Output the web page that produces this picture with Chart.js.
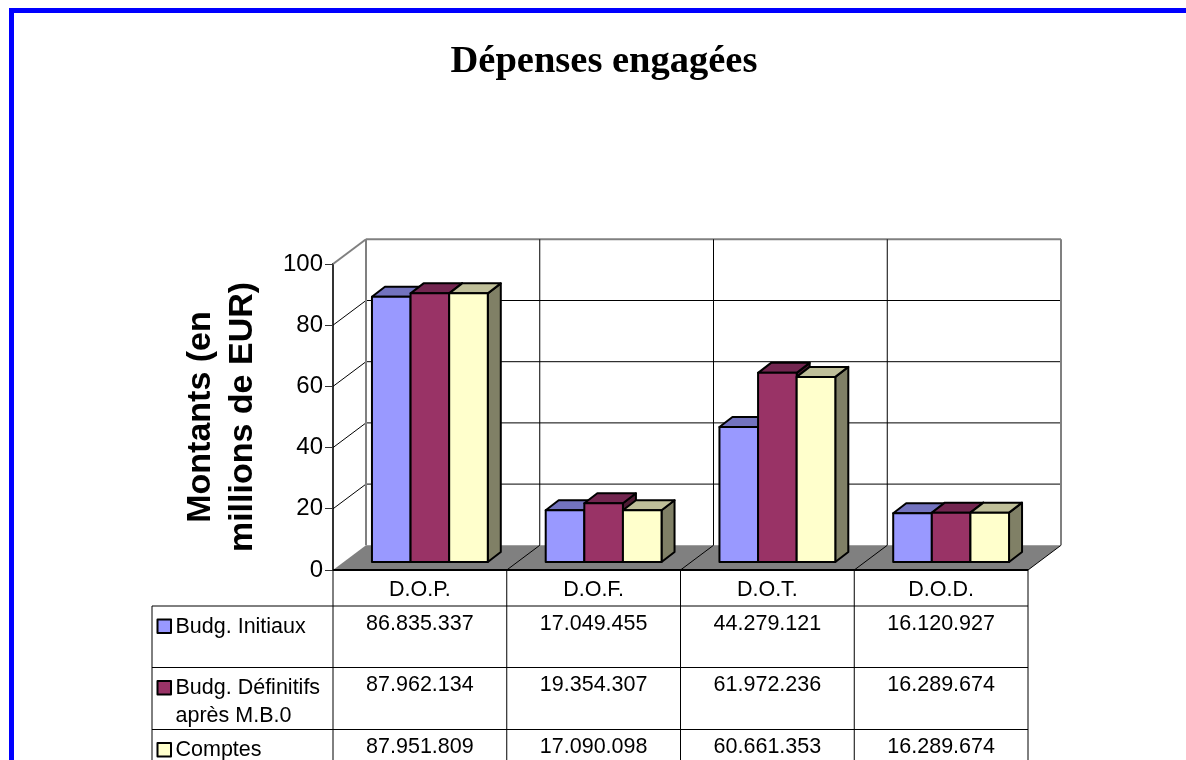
<!DOCTYPE html>
<html>
<head>
<meta charset="utf-8">
<title>Dépenses engagées</title>
<script src="https://cdn.jsdelivr.net/npm/chart.js@4"></script>
<style>
  html, body { margin: 0; padding: 0; background: #fff; overflow: hidden; }
  #wrap { position: relative; width: 1186px; height: 760px; overflow: hidden; }
  canvas { position: absolute; left: 0; top: 0; }
  /* blue frame of the slide, only top and left are in the picture */
  #frameTop { position: absolute; left: 9px; top: 8px; width: 1177px; height: 5px; background: #0000ff; }
  #frameLeft { position: absolute; left: 9px; top: 8px; width: 5px; height: 752px; background: #0000ff; }
</style>
</head>
<body>
<div id="wrap">
  <canvas id="chart" width="1186" height="760"></canvas>
  <div id="frameTop"></div>
  <div id="frameLeft"></div>
</div>
<script>
var categories = ['D.O.P.', 'D.O.F.', 'D.O.T.', 'D.O.D.'];
var seriesNames = ['Budg. Initiaux', 'Budg. Définitifs après M.B.0', 'Comptes'];
var seriesLines = [['Budg. Initiaux'], ['Budg. Définitifs', 'après M.B.0'], ['Comptes']];

// amounts in EUR, as printed in the table
var budgInitiaux = [86835337, 17049455, 44279121, 16120927];
var budgDefinitifs = [87962134, 19354307, 61972236, 16289674];
var comptes = [87951809, 17090098, 60661353, 16289674];
var allSeries = [budgInitiaux, budgDefinitifs, comptes];

var faceColors = ['#9999ff', '#993366', '#ffffcc'];
var topColors = ['#7373bf', '#732650', '#bfbf99'];
var sideColors = ['#4d4d80', '#4d1a33', '#808066'];

// depth of the 3D box and of the bars, in pixels
var wallDx = 33, wallDy = -24.7;
var barShiftX = 10, barShiftY = -7.5;
var barDx = 13, barDy = -10;

function toMillions(v) {
    return v / 1000000;
}

function formatAmount(v) {
    return String(v).replace(/\B(?=(\d{3})+$)/g, '.');
}

function line(ctx, x1, y1, x2, y2, color, width) {
    ctx.strokeStyle = color;
    ctx.lineWidth = width;
    ctx.beginPath();
    ctx.moveTo(x1, y1);
    ctx.lineTo(x2, y2);
    ctx.stroke();
}

function poly(ctx, pts, fill) {
    ctx.beginPath();
    ctx.moveTo(pts[0][0], pts[0][1]);
    for (var i = 1; i < pts.length; i++) {
        ctx.lineTo(pts[i][0], pts[i][1]);
    }
    ctx.closePath();
    ctx.fillStyle = fill;
    ctx.fill();
    ctx.strokeStyle = '#000';
    ctx.lineWidth = 2;
    ctx.lineJoin = 'round';
    ctx.stroke();
}

// grid x position of the edge left of category i
function edgeX(xScale, i) {
    return xScale.left + i * xScale.width / categories.length;
}

function drawWalls(chart) {
    var ctx = chart.ctx, x = chart.scales.x, y = chart.scales.y;
    var y0 = y.getPixelForValue(0), left = x.left, right = x.right;

    // floor
    ctx.fillStyle = '#808080';
    ctx.beginPath();
    ctx.moveTo(left, y0);
    ctx.lineTo(right, y0);
    ctx.lineTo(right + wallDx, y0 + wallDy);
    ctx.lineTo(left + wallDx, y0 + wallDy);
    ctx.closePath();
    ctx.fill();

    // horizontal grid on side wall and back wall
    y.ticks.forEach(function(t) {
        var py = y.getPixelForValue(t.value);
        if (t.value === 0) return;
        var isTop = t.value === y.max;
        var c = isTop ? '#808080' : '#000';
        var w = isTop ? 2 : 1;
        line(ctx, left, py, left + wallDx, py + wallDy, c, w);
        line(ctx, left + wallDx, py + wallDy, right + wallDx, py + wallDy, c, w);
    });

    // vertical grid on back wall, continued over the floor
    for (var i = 1; i < categories.length; i++) {
        var ex = edgeX(x, i);
        line(ctx, ex + wallDx, y.getPixelForValue(y.max) + wallDy, ex + wallDx, y0 + wallDy, '#000', 1);
        line(ctx, ex, y0, ex + wallDx, y0 + wallDy, '#000', 1);
    }
    line(ctx, right, y0, right + wallDx, y0 + wallDy, '#000', 1);

    // wall corners
    line(ctx, left + wallDx, y.getPixelForValue(y.max) + wallDy, left + wallDx, y0 + wallDy, '#808080', 2);
    line(ctx, right + wallDx, y.getPixelForValue(y.max) + wallDy, right + wallDx, y0 + wallDy, '#808080', 2);
}

function drawBars(chart) {
    var ctx = chart.ctx;
    // left to right so the next bar hides the side of the previous one
    for (var d = 0; d < chart.data.datasets.length; d++) {
        var bars = chart.getDatasetMeta(d).data;
        for (var i = 0; i < bars.length; i++) {
            var p = bars[i].getProps(['x', 'y', 'base', 'width'], true);
            var l = p.x - p.width / 2 + barShiftX;
            var r = p.x + p.width / 2 + barShiftX;
            var t = p.y + barShiftY;
            var b = p.base + barShiftY;
            poly(ctx, [[r, t], [r + barDx, t + barDy], [r + barDx, b + barDy], [r, b]], sideColors[d]);
            poly(ctx, [[l, t], [l + barDx, t + barDy], [r + barDx, t + barDy], [r, t]], topColors[d]);
            poly(ctx, [[l, t], [r, t], [r, b], [l, b]], faceColors[d]);
        }
    }
}

function drawTable(chart) {
    var ctx = chart.ctx, x = chart.scales.x, y0 = chart.scales.y.getPixelForValue(0);
    var tableLeft = 152, rowTops = [606, 667.5, 729.5], n = categories.length;
    var bottom = chart.height;

    for (var i = 0; i <= n; i++) {
        line(ctx, edgeX(x, i), y0, edgeX(x, i), bottom, '#000', 1);
    }
    line(ctx, tableLeft, rowTops[0], tableLeft, bottom, '#000', 1);
    rowTops.forEach(function(ry) {
        line(ctx, tableLeft, ry, x.right, ry, '#000', 1);
    });
    // base of the box sits over the table head
    line(ctx, x.left, y0, x.right, y0, '#000', 2);

    ctx.font = '21.5px "Liberation Sans"';
    ctx.textBaseline = 'middle';
    allSeries.forEach(function(values, s) {
        var ry = rowTops[s];
        ctx.fillStyle = '#000';
        ctx.textAlign = 'center';
        values.forEach(function(v, c) {
            ctx.fillText(formatAmount(v), x.getPixelForValue(c), ry + 18);
        });
        ctx.textAlign = 'left';
        seriesLines[s].forEach(function(txt, k) {
            ctx.fillText(txt, 175.5, ry + 21 + k * 28);
        });
        // legend key
        ctx.fillStyle = faceColors[s];
        ctx.fillRect(157.5, ry + 13.5, 13.5, 13.5);
        ctx.strokeStyle = '#000';
        ctx.lineWidth = 2;
        ctx.strokeRect(157.5, ry + 13.5, 13.5, 13.5);
    });
}

var box3d = {
    id: 'box3d',
    afterLayout: function(chart) {
        // title is centred on the slide frame, not on the plot
        chart.titleBlock.left = 22;
        chart.titleBlock.right = 1186;
    },
    beforeDatasetsDraw: function(chart) {
        drawWalls(chart);
        drawBars(chart);
        return false;
    },
    afterDraw: function(chart) {
        drawTable(chart);
    }
};

window.onload = function() {
    var ctx = document.getElementById('chart').getContext('2d');
    new Chart(ctx, {
        type: 'bar',
        data: {
            labels: categories,
            datasets: allSeries.map(function(values, s) {
                return {
                    label: seriesNames[s],
                    data: values.map(toMillions),
                    backgroundColor: faceColors[s],
                    barPercentage: 1,
                    categoryPercentage: 2 / 3
                };
            })
        },
        plugins: [box3d],
        options: {
            responsive: false,
            animation: false,
            layout: { autoPadding: false, padding: { left: 0, top: 0, right: 158, bottom: 0 } },
            plugins: {
                legend: { display: false },
                tooltip: { enabled: false },
                title: {
                    display: true,
                    text: 'Dépenses engagées',
                    color: '#000',
                    font: { family: '"Liberation Serif"', size: 38.5, weight: 'bold', lineHeight: 1.2 },
                    padding: { top: 38.5, bottom: 179.3 }
                }
            },
            scales: {
                x: {
                    afterFit: function(scale) { scale.height = 190; },
                    grid: { display: false, drawTicks: false },
                    border: { display: false },
                    ticks: { color: '#000', padding: 7, maxRotation: 0, font: { family: '"Liberation Sans"', size: 21.5 } }
                },
                y: {
                    min: 0,
                    max: 100,
                    afterFit: function(scale) { scale.width = 333; },
                    grid: { drawOnChartArea: false, drawTicks: true, tickLength: 8, color: '#333' },
                    border: { display: true, color: '#333', width: 2 },
                    ticks: { stepSize: 20, color: '#000', padding: 2, font: { family: '"Liberation Sans"', size: 24 } },
                    title: {
                        display: true,
                        text: ['Montants (en', 'millions de EUR)'],
                        color: '#000',
                        font: { family: '"Liberation Sans"', size: 34, weight: 'bold', lineHeight: 1.235 },
                        padding: { top: 180, bottom: 0 }
                    }
                }
            }
        }
    });
};
</script>
</body>
</html>
